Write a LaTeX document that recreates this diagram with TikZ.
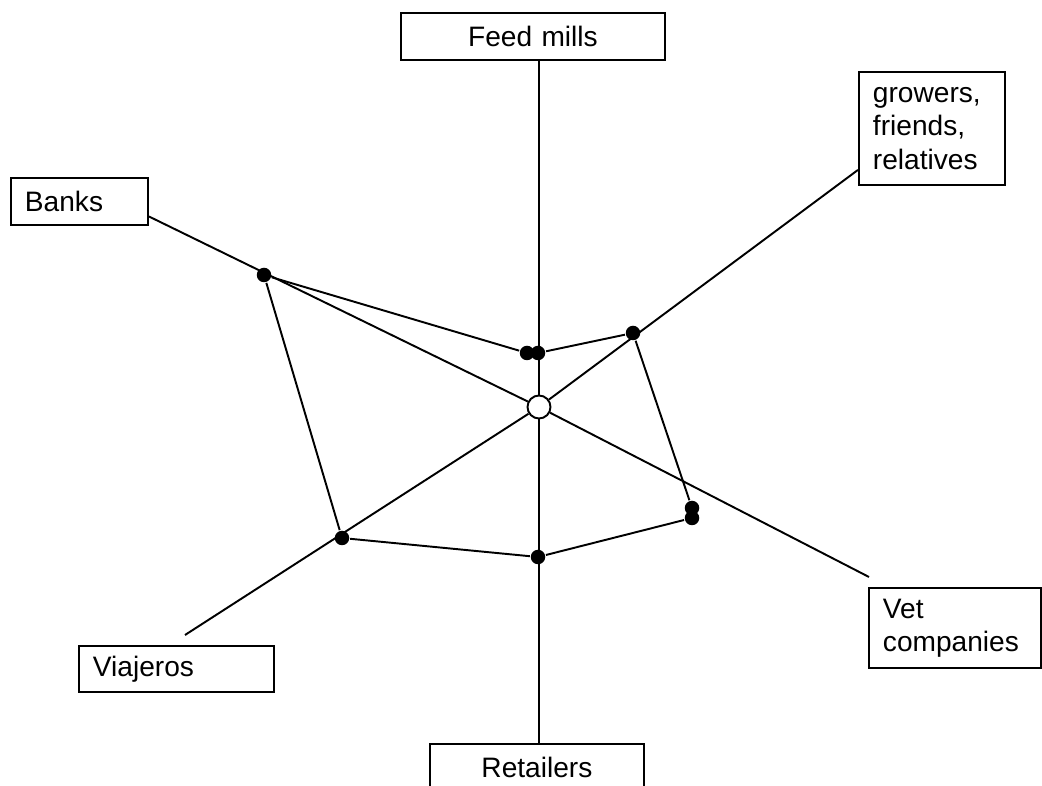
\documentclass[tikz,border=0pt]{standalone}
\usepackage{fontspec}
\setmainfont{Liberation Sans}
\usetikzlibrary{calc}
\begin{document}
\begin{tikzpicture}[x=0.02cm,y=-0.02cm,line width=1.1pt,
        box/.style={draw,anchor=north west,inner xsep=0.28cm,inner ysep=0pt,align=left,
                font=\fontsize{16}{19}\selectfont},
        dot/.style={circle,fill=black,inner sep=0pt,minimum size=0.29cm},
        hub/.style={circle,draw,fill=white,inner sep=0pt,minimum size=0.46cm}]
        \clip (0,0) rectangle (1042,786);
        \fill[white] (0,0) rectangle (1042,786);
        % the actors
        \node[box,text width=4.72cm,align=center,minimum height=0.94cm] (feed) at (400,12) {Feed mills};
        \node[box,text width=2.18cm,minimum height=0.94cm] (banks) at (10,177) {Banks};
        \node[box,text width=2.36cm,minimum height=2.26cm] (growers) at (858,71) {growers,\\friends,\\relatives};
        \node[box,text width=2.88cm,minimum height=1.6cm] (vet) at (868,587) {Vet\\companies};
        \node[box,text width=3.34cm,minimum height=0.92cm] (viaj) at (78,645) {Viajeros};
        \node[box,text width=3.72cm,align=center,minimum height=0.94cm] (retail) at (429,743) {Retailers};
        % spokes
        \node[hub] (hub) at (539,407) {};
        \coordinate (eBank) at ($(banks.east)+(0,15)$);
        \coordinate (eGrow) at ($(growers.south west)+(0,-16)$);
        \coordinate (eVet) at ($(vet.north west)+(1,-10)$);
        \coordinate (eViaj) at ($(viaj.north west)+(107,-10)$);
        \draw (feed.south -| hub) -- (hub) -- (retail.north -| hub);
        \draw (eBank) -- (hub) -- (eVet);
        \draw (eGrow) -- (hub) -- (eViaj);
        % the scores
        \node[dot] (dBank) at (264,275) {};
        \node[dot] (dFeedA) at (527,353) {};
        \node[dot] (dFeedB) at (538,353) {};
        \node[dot] (dGrow) at (633,333) {};
        \node[dot] (dVetA) at (692,508) {};
        \node[dot] (dVetB) at (692,518) {};
        \node[dot] (dRet) at (538,557) {};
        \node[dot] (dViaj) at (342,538) {};
        \draw (dBank) -- (dFeedA);
        \draw (dFeedB) -- (dGrow) -- (dVetA);
        \draw (dVetB) -- (dRet) -- (dViaj) -- (dBank);
\end{tikzpicture}
\end{document}
